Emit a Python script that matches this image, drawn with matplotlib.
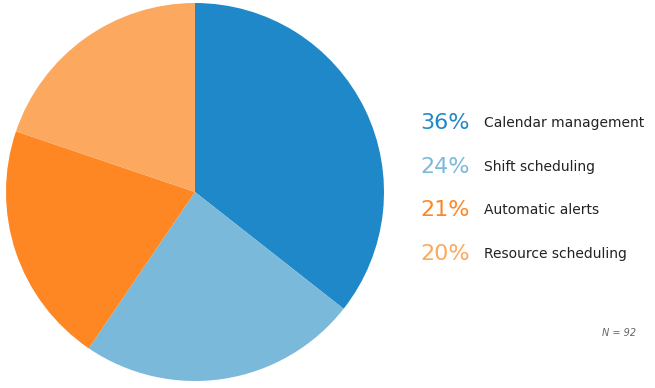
import matplotlib
matplotlib.use("Agg")
import matplotlib.pyplot as plt

labels = ["Calendar management", "Shift scheduling", "Automatic alerts", "Resource scheduling"]
shares = [35.6, 23.9, 20.7, 19.8]
pct_labels = ["36%", "24%", "21%", "20%"]
colors = ["#1f88c9", "#7bb9da", "#fe8724", "#fca85e"]
n_total = 92

fig = plt.figure(figsize=(6.55, 3.88), dpi=100)
ax = fig.add_axes([6/655, 7/388, 378/655, 378/388])
ax.pie(shares, colors=colors, startangle=90, counterclock=False,
       wedgeprops=dict(linewidth=0))
ax.set_xlim(-1, 1)
ax.set_ylim(-1, 1)
ax.set_aspect("equal")
ax.axis("off")

rows_y = [123, 167, 210, 254]
for pct, lab, col, y in zip(pct_labels, labels, colors, rows_y):
    fig.text(420/655, 1 - y/388, pct, color=col, fontsize=16, va="center", ha="left")
    fig.text(484/655, 1 - y/388, lab, color="#222222", fontsize=10, va="center", ha="left")

fig.text(636/655, 1 - 333/388, "N = %d" % n_total, color="#666666", fontsize=7,
         style="italic", ha="right", va="center")

fig.savefig("out.png", dpi=100)
